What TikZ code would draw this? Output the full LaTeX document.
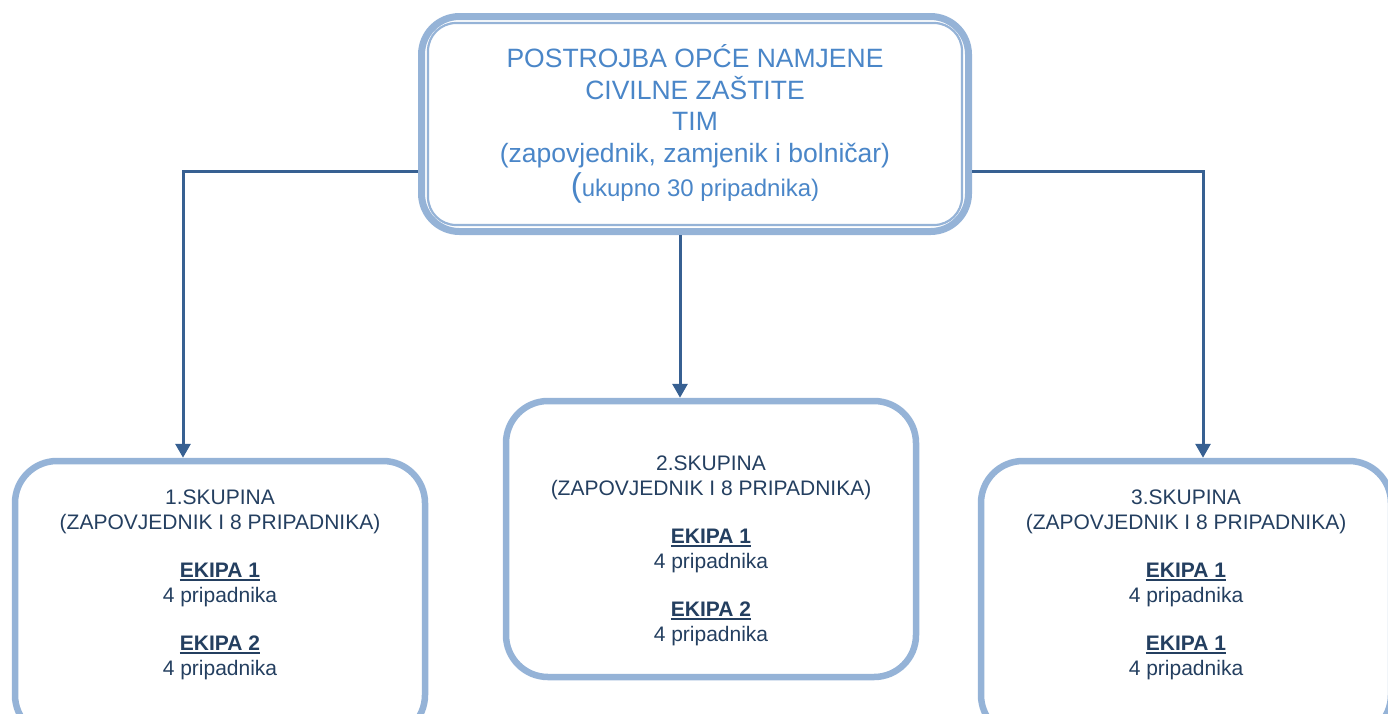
\documentclass[tikz,border=0pt]{standalone}
\usepackage{fontspec}
\setmainfont{Liberation Sans}
\usetikzlibrary{positioning,arrows.meta}

\definecolor{boxline}{HTML}{95B3D7}
\definecolor{arrowblue}{HTML}{376092}
\definecolor{timtext}{HTML}{4A86C8}
\definecolor{navytext}{HTML}{243F60}

\tikzset{
  groupbox/.style={draw=boxline, line width=6.5pt, rounded corners=42pt, fill=white,
    inner sep=0pt, minimum width=410pt, minimum height=276pt},
  linkarrow/.style={draw=arrowblue, line width=3pt, -{Triangle[width=15pt,length=14pt]}},
  grouptext/.style={text=navytext, align=center, inner sep=0pt,
    font=\fontsize{21}{24.5}\selectfont}
}
\newcommand{\ekipa}[1]{\setbox0\hbox{\textbf{#1}}\leavevmode
  \rlap{\rule[-3.2pt]{\wd0}{1.9pt}}\box0}

\begin{document}
\begin{tikzpicture}[x=1pt, y=-1pt]
    \useasboundingbox (0,0) rectangle (1388,713);
    \clip (0,0) rectangle (1388,713);
    \def\gap{24pt}

    % top box (double border)
    \node[draw=boxline, line width=7pt, rounded corners=38pt, fill=white,
      minimum width=547pt, minimum height=215pt, inner sep=0pt,
      text=timtext, align=center, font=\fontsize{26.5}{31.5}\selectfont]
      (tim) at (695,124) {POSTROJBA OPĆE NAMJENE\\
        CIVILNE ZAŠTITE\\
        TIM\\
        (zapovjednik, zamjenik i bolničar)\\[3pt]
        {\fontsize{33}{33}\selectfont(}{\fontsize{24}{28}\selectfont ukupno 30 pripadnika)}};
    \draw[boxline, line width=2.2pt, rounded corners=28pt]
      ([shift={(10,10)}]tim.north west) rectangle ([shift={(-10,-10)}]tim.south east);

    % the three groups
    \node[groupbox] (sk1) at (220,599) {};
    \node[groupbox] (sk2) at (711,539) {};
    \node[groupbox] (sk3) at (1186,599) {};

    \node[grouptext, below=32pt of sk1.north] (sk1txt) {1.SKUPINA\\
      (ZAPOVJEDNIK I 8 PRIPADNIKA)\\[\gap]
      \ekipa{EKIPA 1}\\ 4 pripadnika\\[\gap]
      \ekipa{EKIPA 2}\\ 4 pripadnika};
    \node[grouptext, below=58pt of sk2.north] (sk2txt) {2.SKUPINA\\
      (ZAPOVJEDNIK I 8 PRIPADNIKA)\\[\gap]
      \ekipa{EKIPA 1}\\ 4 pripadnika\\[\gap]
      \ekipa{EKIPA 2}\\ 4 pripadnika};
    \node[grouptext, below=32pt of sk3.north] (sk3txt) {3.SKUPINA\\
      (ZAPOVJEDNIK I 8 PRIPADNIKA)\\[\gap]
      \ekipa{EKIPA 1}\\ 4 pripadnika\\[\gap]
      \ekipa{EKIPA 1}\\ 4 pripadnika};

    % connectors
    \coordinate (l1) at ([yshift=-47pt]tim.west);
    \coordinate (l2) at ([xshift=-37pt]sk1.north);
    \draw[linkarrow] (l1) -| (l2);

    \coordinate (m1) at ([xshift=-15pt]tim.south);
    \draw[linkarrow] (m1) -- (m1 |- sk2.north);

    \coordinate (r1) at ([yshift=-47pt]tim.east);
    \coordinate (r2) at ([xshift=17pt]sk3.north);
    \draw[linkarrow] (r1) -| (r2);
\end{tikzpicture}
\end{document}
